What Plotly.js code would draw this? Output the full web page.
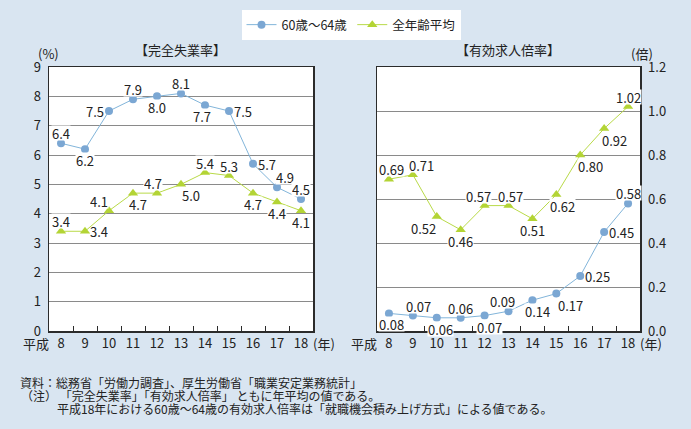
<!DOCTYPE html>
<html>
<head>
<meta charset="utf-8">
<script src="https://cdn.plot.ly/plotly-3.0.1.min.js"></script>
<style>
  html, body { margin: 0; padding: 0; background: #d9e5f1; }
  #chart { width: 691px; height: 429px; }
</style>
</head>
<body>
<div id="chart"></div>
<script>
// ---- data (平成8〜18年) ----
const years = [8, 9, 10, 11, 12, 13, 14, 15, 16, 17, 18];
const seriesNames = ['60歳〜64歳', '全年齢平均'];

const unemp6064 = [6.4, 6.2, 7.5, 7.9, 8.0, 8.1, 7.7, 7.5, 5.7, 4.9, 4.5];
const unempAll = [3.4, 3.4, 4.1, 4.7, 4.7, 5.0, 5.4, 5.3, 4.7, 4.4, 4.1];
const ratio6064 = [0.08, 0.07, 0.06, 0.06, 0.07, 0.09, 0.14, 0.17, 0.25, 0.45, 0.58];
const ratioAll = [0.69, 0.71, 0.52, 0.46, 0.57, 0.57, 0.51, 0.62, 0.80, 0.92, 1.02];

// label placement around each point: a=above b=below l=left r=right, optional px nudge
const posUnemp6064 = ['a', 'b', 'l', 'a', 'b', 'a', 'b-3', 'r', 'r', 'a+8', 'a'];
const posUnempAll = ['a', 'r', 'a-10', 'b+5', 'a-4', 'b+10', 'a', 'a', 'b', 'b', 'b'];
const posRatio6064 = ['b+3', 'a+6', 'b+4', 'a', 'b+5', 'a-6', 'b+5', 'b+14', 'r', 'r', 'a'];
const posRatioAll = ['a+3', 'a+9', 'b-13', 'b', 'a-6', 'a+2', 'b', 'b+6', 'b+10', 'b+10', 'a'];

const notes = [
    '資料：総務省「労働力調査」、厚生労働省「職業安定業務統計」',
    '（注） 「完全失業率」「有効求人倍率」 ともに年平均の値である。',
    '平成18年における60歳〜64歳の有効求人倍率は「就職機会積み上げ方式」による値である。'
];

// ---- styles ----
const FONT = '"Noto Sans CJK JP", "Noto Sans", sans-serif';
const TXT = '#222';
const BLUE = '#7ba7d3';
const BLUE_LINE = '#82b5da';
const GREEN = '#b3d435';
const GREEN_LINE = '#b9da48';
const W = 691, H = 429;
const px = v => v / W;
const py = v => 1 - v / H;

function blueTrace(y, xa, ya, show) {
    return {
        x: years, y: y, xaxis: xa, yaxis: ya, name: seriesNames[0],
        type: 'scatter', mode: 'lines+markers', showlegend: show, legendrank: 1,
        line: { color: BLUE_LINE, width: 1 },
        marker: { symbol: 'circle', size: 8, color: BLUE },
        hoverinfo: 'none'
    };
}
function greenTrace(y, xa, ya, show) {
    return {
        x: years, y: y, xaxis: xa, yaxis: ya, name: seriesNames[1],
        type: 'scatter', mode: 'lines+markers', showlegend: show, legendrank: 2,
        line: { color: GREEN_LINE, width: 1 },
        marker: { symbol: 'triangle-up', size: 9, color: GREEN },
        hoverinfo: 'none'
    };
}

function place(code) {
    const o = { xanchor: 'center', yanchor: 'middle', xshift: 0, yshift: 0 };
    const side = code[0];
    const nudge = code.length > 1 ? parseFloat(code.slice(1)) : 0;
    if (side === 'a') { o.yanchor = 'bottom'; o.yshift = 2; o.xshift = nudge; }
    if (side === 'b') { o.yanchor = 'top'; o.yshift = -3; o.xshift = nudge; }
    if (side === 'l') { o.xanchor = 'right'; o.xshift = -4; o.yshift = nudge; }
    if (side === 'r') { o.xanchor = 'left'; o.xshift = 4; o.yshift = nudge; }
    return o;
}

function labels(vals, pos, digits, xref, yref) {
    return vals.map((v, i) => {
        const p = place(pos[i]);
        const side = pos[i][0] === 'l' || pos[i][0] === 'r';
        return Object.assign({
            x: years[i], y: v, xref: xref, yref: yref,
            text: v.toFixed(digits), showarrow: false, height: 14,
            font: { family: FONT, size: 13, color: TXT },
            bgcolor: side ? 'rgba(0,0,0,0)' : '#ffffff', borderpad: 0
        }, p);
    });
}

function textAt(text, x, y, size, xanchor, h) {
    const a = {
        text: text, x: px(x), y: py(y), xref: 'paper', yref: 'paper',
        showarrow: false, xanchor: xanchor || 'center', yanchor: 'middle',
        borderpad: 0,
        font: { family: FONT, size: size, color: TXT }
    };
    if (h) a.height = h;
    return a;
}

const boundaries = years.slice(0, -1).map(v => v + 0.5);

function xAxis(d0, d1, anchor) {
    return {
        domain: [px(d0), px(d1)], anchor: anchor,
        range: [years[0] - 0.5, years[years.length - 1] + 0.5],
        tickvals: years, ticktext: years.map(String), ticks: '',
        tickfont: { family: FONT, size: 13, color: TXT },
        showline: true, mirror: true, linecolor: '#2b2b2b', linewidth: 1.5,
        showgrid: false, zeroline: false, fixedrange: true,
        minor: { tickvals: boundaries, ticks: 'inside', ticklen: 5, tickcolor: '#2b2b2b', tickwidth: 1, showgrid: false }
    };
}

function yAxis(range, dtick, fmt, side, anchor) {
    return {
        domain: [py(331), py(67)], anchor: anchor, side: side,
        range: range, dtick: dtick, tick0: 0, tickformat: fmt, ticks: '',
        ticklabelstandoff: 4,
        tickfont: { family: FONT, size: 13, color: TXT },
        showline: true, mirror: true, linecolor: '#2b2b2b', linewidth: 1.5,
        showgrid: true, gridcolor: '#8a8a8a', gridwidth: 1,
        zeroline: false, fixedrange: true
    };
}

const traces = [
    blueTrace(unemp6064, 'x', 'y', true),
    greenTrace(unempAll, 'x', 'y', true),
    blueTrace(ratio6064, 'x2', 'y2', false),
    greenTrace(ratioAll, 'x2', 'y2', false)
];

const annotations = [
    ...labels(unemp6064, posUnemp6064, 1, 'x', 'y'),
    ...labels(unempAll, posUnempAll, 1, 'x', 'y'),
    ...labels(ratio6064, posRatio6064, 2, 'x2', 'y2'),
    ...labels(ratioAll, posRatioAll, 2, 'x2', 'y2'),
    textAt('【完全失業率】', 181, 49, 13),
    textAt('【有効求人倍率】', 508, 49, 13),
    textAt('(%)', 48, 54, 13),
    textAt('(倍)', 642, 54, 13),
    textAt('平成', 50, 343, 13, 'right', 15),
    textAt('(年)', 312, 343, 13, 'left', 15),
    textAt('平成', 378, 343, 13, 'right', 15),
    textAt('(年)', 639, 343, 13, 'left', 15),
    textAt(notes[0], 19, 382, 12, 'left', 13),
    textAt(notes[1], 20, 395, 12, 'left', 13),
    textAt(notes[2], 56, 408, 12, 'left', 13)
];

const layout = {
    width: W, height: H,
    margin: { l: 0, r: 0, t: 0, b: 0 },
    paper_bgcolor: '#d9e5f1',
    plot_bgcolor: '#ffffff',
    font: { family: FONT, size: 13, color: TXT },
    showlegend: true,
    legend: {
        orientation: 'h', x: px(351), xanchor: 'center', y: py(25), yanchor: 'middle',
        bgcolor: '#ffffff', borderwidth: 0,
        font: { family: FONT, size: 12.5, color: TXT },
        itemwidth: 30, tracegroupgap: 0
    },
    xaxis: xAxis(49, 313, 'y'),
    yaxis: yAxis([0, 9], 1, 'd', 'left', 'x'),
    xaxis2: xAxis(377, 640, 'y2'),
    yaxis2: yAxis([0, 1.2], 0.2, '.1f', 'right', 'x2'),
    annotations: annotations
};

Plotly.newPlot('chart', traces, layout, { displayModeBar: false, staticPlot: true });
</script>
</body>
</html>
